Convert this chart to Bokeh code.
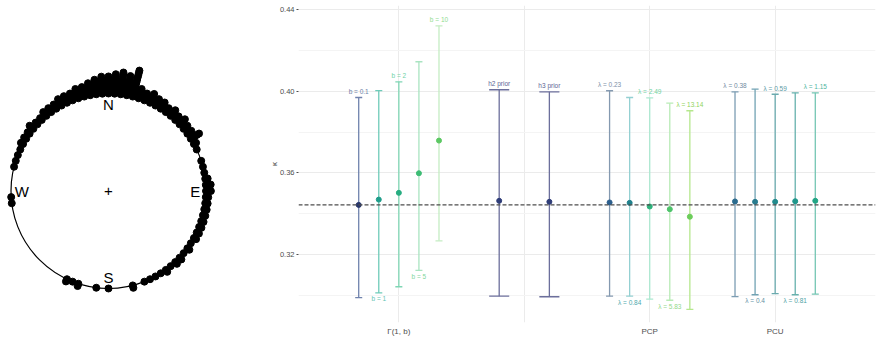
import numpy as np
from bokeh.plotting import figure
from bokeh.layouts import row
from bokeh.models import Range1d, FixedTicker, ColumnDataSource, Span
from bokeh.embed import file_html
from bokeh.resources import INLINE
from bokeh.core.properties import value

# ---------------- Left panel: stacked circular data ----------------
bin_width_deg = 3.6          # 100 bins, compass angle clockwise from N
stack_counts = [
    8, 9, 10, 9, 12, 5, 4, 5, 4, 4,      # 0 - 32.4
    3, 4, 3, 4, 3, 3, 5, 2, 1, 0,        # 36 - 68.4
    1, 1, 1, 2, 3, 3, 2, 2, 2, 2,        # 72 - 104.4
    2, 2, 2, 2, 1, 2, 1, 2, 2, 1,        # 108 - 140.4
    2, 1, 1, 1, 1, 0, 2, 0, 0, 0,        # 144 - 176.4
    1, 0, 1, 0, 0, 2, 1, 2, 0, 0,        # 180 - 212.4
    0, 0, 0, 0, 0, 0, 0, 0, 0, 0,        # 216 - 248.4
    0, 0, 0, 1, 1, 0, 0, 0, 0, 1,        # 252 - 284.4
    1, 1, 1, 2, 2, 2, 3, 2, 2, 3,        # 288 - 320.4
    3, 3, 4, 4, 4, 5, 5, 6, 7, 8,        # 324 - 356.4
]
compass_labels = ["N", "E", "S", "W"]
compass_angles = [0, 90, 180, 270]
stack_sep = 0.025

px, py = [], []
for i, n in enumerate(stack_counts):
    th = np.deg2rad(i * bin_width_deg)
    for k in range(n):
        r = 1 + k * stack_sep
        px.append(r * np.sin(th))
        py.append(r * np.cos(th))

# frame of left panel: x 0..240, y 5..322 (aligned with right panel); 97.5 px per unit
unit = 97.5
cx, cy = 108.0, 190.5
left = figure(width=240, height=340, title=None,
              x_range=Range1d(-cx / unit, (240 - cx) / unit),
              y_range=Range1d(-(322 - cy) / unit, (cy - 5) / unit),
              output_backend="svg", toolbar_location=None,
              x_axis_location=None, y_axis_location=None,
              min_border_left=0, min_border_right=0,
              min_border_top=5, min_border_bottom=18)
left.grid.visible = False
left.outline_line_color = None
left.background_fill_color = "white"
left.circle(x=[0], y=[0], radius=1, fill_color=None, line_color="black", line_width=1.2)
left.scatter(x=px, y=py, size=7, fill_color="black", line_color="black")
lab_r = 0.89
left.text(x=[lab_r * np.sin(np.deg2rad(a)) for a in compass_angles],
          y=[lab_r * np.cos(np.deg2rad(a)) for a in compass_angles],
          text=compass_labels, text_align="center", text_baseline="middle",
          text_font=value("Liberation Sans"), text_font_size="15px", text_color="black")
left.text(x=[0], y=[0], text=["+"], text_align="center", text_baseline="middle",
          text_font=value("Liberation Sans"), text_font_size="15px", text_color="black")

# ---------------- Right panel: estimates with intervals ----------------
group_names = ["Γ(1, b)", "", "PCP", "PCU"]
labels = ["b = 0.1", "b = 1", "b = 2", "b = 5", "b = 10",
          "h2 prior", "h3 prior",
          "λ = 0.23", "λ = 0.84", "λ = 2.49", "λ = 5.83", "λ = 13.14",
          "λ = 0.38", "λ = 0.4", "λ = 0.59", "λ = 0.81", "λ = 1.15"]
group = [0, 0, 0, 0, 0, 1, 1, 2, 2, 2, 2, 2, 3, 3, 3, 3, 3]
estimate = [0.3443, 0.3469, 0.3502, 0.3598, 0.3758,
            0.3463, 0.3458,
            0.3455, 0.3453, 0.3435, 0.3422, 0.3385,
            0.3460, 0.3458, 0.3458, 0.3461, 0.3463]
lower = [0.2989, 0.3012, 0.3042, 0.3122, 0.3267,
         0.2996, 0.2993,
         0.2996, 0.2996, 0.2981, 0.2976, 0.2931,
         0.2994, 0.3003, 0.3008, 0.3003, 0.3006]
upper = [0.3969, 0.4003, 0.4046, 0.4144, 0.4320,
         0.4007, 0.3997,
         0.4002, 0.3969, 0.3967, 0.3941, 0.3904,
         0.3997, 0.4010, 0.3985, 0.3992, 0.3992]
true_kappa = 0.3443
line_colors = ["#6f82ad", "#6ecbb9", "#7fd6b4", "#a9e4c1", "#c5edc3",
               "#6c6f9c", "#6c6f9c",
               "#8499b0", "#94d0d2", "#ace8d0", "#b8ebb5", "#b5e78d",
               "#7c9db3", "#71a2b3", "#6aaaae", "#67b1ad", "#74c6b3"]
point_colors = ["#27366a", "#1f9d8a", "#27ad81", "#3dbc74", "#5cc863",
                "#2f3d78", "#2f3d78",
                "#2c5f8e", "#21818c", "#2eb37c", "#4ec36b", "#6ccd5a",
                "#2a6b8e", "#277b8e", "#218b8d", "#1f978b", "#21a585"]
label_colors = ["#6d7fa8", "#5fc3b3", "#6fd2a6", "#7fd69e", "#8fdc8f",
                "#5d6595", "#5d6595",
                "#7d8fa8", "#4fa9ad", "#6fd39f", "#92d98a", "#8fd35c",
                "#6f8aa0", "#5f93a5", "#5b9aa5", "#4fa3a4", "#4fb5a0"]

# dodge positions within group
sizes = {g: group.count(g) for g in set(group)}
xs, cap_half, lab_y, lab_off = [], [], [], []
seen = {}
for i, g in enumerate(group):
    j = seen.get(g, 0)
    seen[g] = j + 1
    n = sizes[g]
    width = 0.8 / n
    xs.append(g + 1 + (j - (n - 1) / 2) * width)
    cap_half.append(0.028 if n > 2 else 0.08)
    if n > 2 and j % 2 == 1:
        lab_y.append(lower[i]); lab_off.append(6)
    else:
        lab_y.append(upper[i]); lab_off.append(-6)

src = ColumnDataSource(dict(
    x=xs, est=estimate, lo=lower, hi=upper,
    cx0=[x - c for x, c in zip(xs, cap_half)], cx1=[x + c for x, c in zip(xs, cap_half)],
    lc=line_colors, pc=point_colors, tc=label_colors,
    label=labels, ly=lab_y, loff=lab_off))

right = figure(width=642, height=340, title=None,
               x_range=Range1d(0.2, 4.8), y_range=Range1d(0.2867, 0.44196),
               output_backend="svg", toolbar_location=None,
               min_border_left=58, min_border_right=7, min_border_top=5, min_border_bottom=18)
right.outline_line_color = None
right.background_fill_color = "white"

right.xgrid.ticker = FixedTicker(ticks=[1, 2, 3, 4])
right.xgrid.grid_line_color = "#ebebeb"
right.xgrid.grid_line_width = 1
right.ygrid.ticker = FixedTicker(ticks=[0.32, 0.36, 0.40, 0.44], minor_ticks=[0.30, 0.34, 0.38, 0.42])
right.ygrid.grid_line_color = "#ebebeb"
right.ygrid.minor_grid_line_color = "#f4f4f4"

right.xaxis.ticker = FixedTicker(ticks=[1, 2, 3, 4])
right.xaxis.major_label_overrides = {1: group_names[0], 2: group_names[1], 3: group_names[2], 4: group_names[3]}
right.xaxis.axis_line_color = None
right.xaxis.major_tick_line_color = None
right.xaxis.minor_tick_line_color = None
right.xaxis.major_tick_out = 0
right.xaxis.major_label_standoff = 4
right.xaxis.major_label_text_font = "Liberation Sans"
right.xaxis.major_label_text_font_size = "8px"
right.xaxis.major_label_text_color = "#4d4d4d"

right.yaxis.ticker = FixedTicker(ticks=[0.32, 0.36, 0.40, 0.44])
right.yaxis.major_label_overrides = {0.32: "0.32", 0.36: "0.36", 0.40: "0.40", 0.44: "0.44"}
right.yaxis.axis_line_color = None
right.yaxis.major_tick_line_color = "#4d4d4d"
right.yaxis.major_tick_out = 2
right.yaxis.major_tick_in = 0
right.yaxis.minor_tick_line_color = None
right.yaxis.major_label_standoff = 2
right.yaxis.major_label_text_font = "Liberation Sans"
right.yaxis.major_label_text_font_size = "7.5px"
right.yaxis.major_label_text_color = "#4d4d4d"
right.yaxis.axis_label = "κ"
right.yaxis.axis_label_text_font = "Liberation Sans"
right.yaxis.axis_label_text_font_size = "8px"
right.yaxis.axis_label_text_font_style = "normal"
right.yaxis.axis_label_standoff = -2

right.add_layout(Span(location=true_kappa, dimension="width", line_dash="4 2",
                      line_color="#4d4d4d", line_width=1.3))

right.segment(x0="x", y0="lo", x1="x", y1="hi", line_color="lc", line_width=1.3, source=src)
right.segment(x0="cx0", y0="hi", x1="cx1", y1="hi", line_color="lc", line_width=1.3, source=src)
right.segment(x0="cx0", y0="lo", x1="cx1", y1="lo", line_color="lc", line_width=1.3, source=src)
right.scatter(x="x", y="est", size=5, fill_color="pc", line_color="pc", source=src)
right.text(x="x", y="ly", text="label", y_offset="loff", text_color="tc",
           text_align="center", text_baseline="middle",
           text_font=value("Liberation Sans"), text_font_size="6.5px", source=src)

layout = row(left, right)
open("out.html", "w").write(file_html(layout, INLINE))
